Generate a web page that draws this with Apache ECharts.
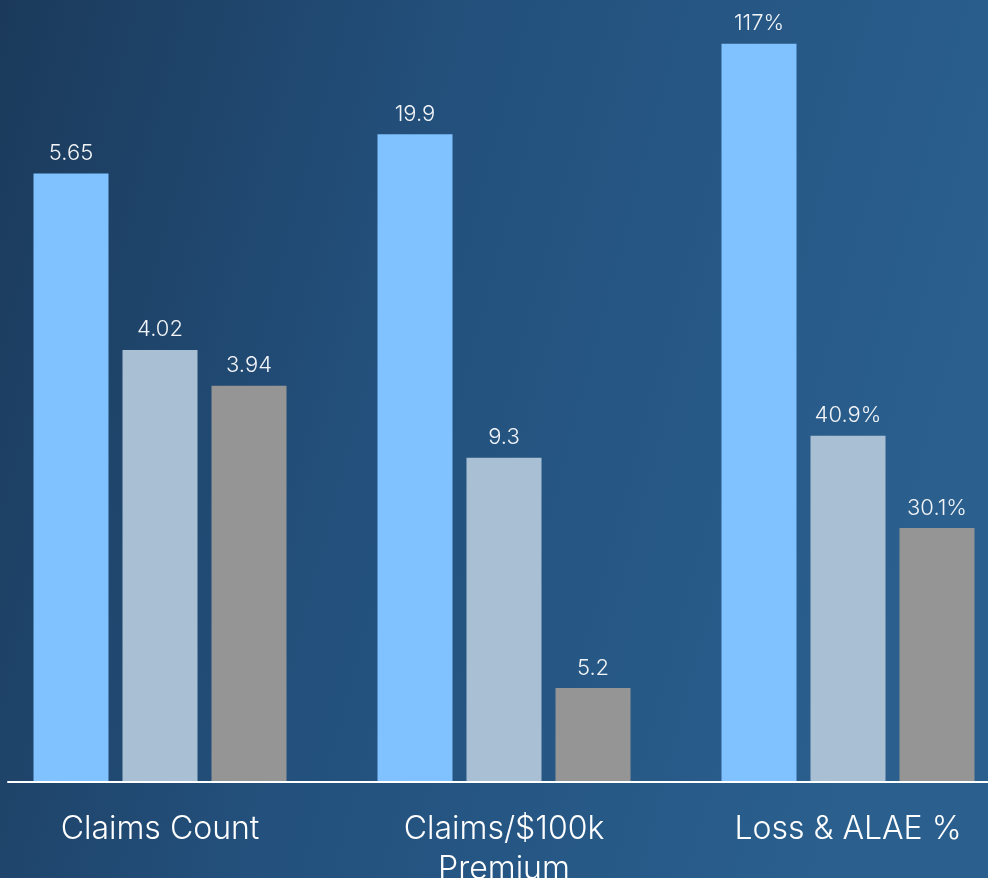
<!DOCTYPE html>
<html><head><meta charset="utf-8">
<script src="https://cdn.jsdelivr.net/npm/echarts@6/dist/echarts.min.js"></script>
<style>html,body{margin:0;padding:0;}#c{width:988px;height:878px;}</style>
</head><body><div id="c"></div>
<script>
// Categories (axis labels)
const categories = ['Claims Count', 'Claims/$100k\nPremium', 'Loss & ALAE %'];
// Bar heights as shown in the picture (relative scale, each group drawn on its own scale)
const heightsA = [77.8, 82.8, 94.4];
const heightsB = [55.2, 41.4, 44.2];
const heightsC = [50.6, 11.9, 32.4];
// Value labels printed above bars
const labelsA = ['5.65', '19.9', '117%'];
const labelsB = ['4.02', '9.3', '40.9%'];
const labelsC = ['3.94', '5.2', '30.1%'];

const FONT = 'Inter';
function mk(name, heights, labels, color) {
  return {
    name: name, type: 'bar', xAxisIndex: 0, yAxisIndex: 0,
    barWidth: 75, barGap: '18.67%',
    data: heights.map((v, i) => ({ value: v, label: { formatter: labels[i] } })),
    itemStyle: { color: color },
    label: { show: true, position: 'top', distance: 9, color: '#f2f4f7',
      fontFamily: FONT, fontWeight: 300, fontSize: 22 },
    z: 3
  };
}
const chart = echarts.init(document.getElementById('c'));
chart.setOption({
  backgroundColor: { type: 'linear', x: 0, y: 0, x2: 1, y2: 0.3, colorStops: [
    { offset: 0, color: '#1b3a5b' }, { offset: 0.45, color: '#23507c' }, { offset: 1, color: '#2a5f8e' }] },
  animation: false,
  grid: [
    { left: -12, width: 1032, top: 0, bottom: 97, outerBoundsMode: 'none', containLabel: false },
    { left: 8, right: 0, top: 0, bottom: 96, outerBoundsMode: 'none' }
  ],
  xAxis: [
    { type: 'category', gridIndex: 0, data: categories,
      axisLine: { show: false }, axisTick: { show: false },
      axisLabel: { color: '#ffffff', fontFamily: FONT, fontWeight: 300, fontSize: 32, lineHeight: 40, margin: 28 } },
    { type: 'value', gridIndex: 1, min: 0, max: 1, axisLine: { show: true, lineStyle: { color: '#ffffff', width: 2 } },
      axisTick: { show: false }, axisLabel: { show: false }, splitLine: { show: false } }
  ],
  yAxis: [
    { type: 'value', gridIndex: 0, min: 0, max: 100, show: false },
    { type: 'value', gridIndex: 1, min: 0, max: 1, show: false }
  ],
  series: [
    mk('A', heightsA, labelsA, '#80c1ff'),
    mk('B', heightsB, labelsB, '#a9bfd3'),
    mk('C', heightsC, labelsC, '#959595')
  ]
});
</script></body></html>
